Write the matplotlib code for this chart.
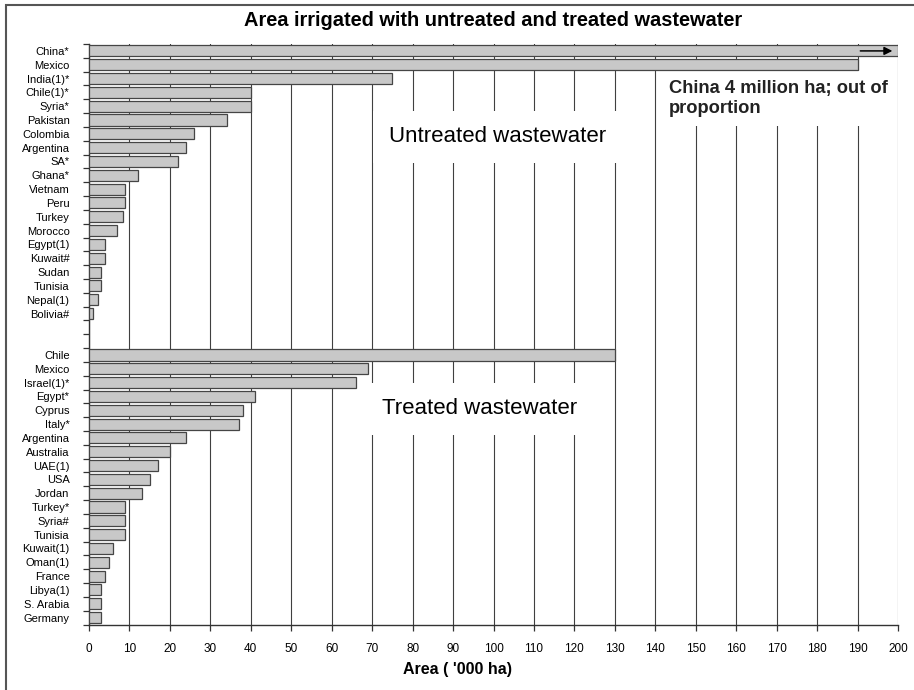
import matplotlib.pyplot as plt
import numpy as np
from matplotlib.patches import Rectangle

plt.rcParams['font.family'] = ['Liberation Sans', 'DejaVu Sans']

# untreated wastewater ('000 ha); China is really 4 million ha, cut at the axis
untreated_countries = ["China*", "Mexico", "India(1)*", "Chile(1)*", "Syria*", "Pakistan",
                       "Colombia", "Argentina", "SA*", "Ghana*", "Vietnam", "Peru", "Turkey",
                       "Morocco", "Egypt(1)", "Kuwait#", "Sudan", "Tunisia", "Nepal(1)", "Bolivia#"]
untreated_area = [4000, 190, 75, 40, 40, 34, 26, 24, 22, 12, 9, 9, 8.5, 7, 4, 4, 3, 3, 2.2, 1]

treated_countries = ["Chile", "Mexico", "Israel(1)*", "Egypt*", "Cyprus", "Italy*", "Argentina",
                     "Australia", "UAE(1)", "USA", "Jordan", "Turkey*", "Syria#", "Tunisia",
                     "Kuwait(1)", "Oman(1)", "France", "Libya(1)", "S. Arabia", "Germany"]
treated_area = [130, 69, 66, 41, 38, 37, 24, 20, 17, 15, 13, 9, 9, 9, 6, 5, 4, 3, 3, 3]

gap_rows = 2
x_max = 200
x_ticks = np.arange(0, 201, 10)

fig = plt.figure(figsize=(9.14, 6.9), dpi=100)
ax = fig.add_axes([89/914, 1 - 624.5/690, 809/914, 580.5/690])

n_u = len(untreated_countries)
y_u = np.arange(n_u)
y_t = n_u + gap_rows + np.arange(len(treated_countries))

bar_kw = dict(height=0.8, color="#c8c8c8", edgecolor="#454545", linewidth=0.9, zorder=3)
ax.barh(y_u, np.minimum(untreated_area, x_max), **bar_kw)
ax.barh(y_t, np.minimum(treated_area, x_max), **bar_kw)

n_rows = y_t[-1] + 1
ax.set_ylim(n_rows - 0.5, -0.5)
ax.set_xlim(0, x_max)

ax.set_yticks(np.concatenate([y_u, y_t]))
ax.set_yticklabels(untreated_countries + treated_countries, fontsize=8)
ax.set_yticks(np.arange(n_rows + 1) - 0.5, minor=True)
ax.tick_params(axis="y", which="major", length=0, pad=14)
ax.tick_params(axis="y", which="minor", length=4, width=0.9, direction="out", color="#333333")

ax.set_xticks(x_ticks)
ax.set_xticklabels([str(v) for v in x_ticks], fontsize=8.5)
ax.tick_params(axis="x", length=4, width=0.9, color="#333333", pad=9)

ax.grid(axis="x", color="#404040", linewidth=0.8, zorder=0)
ax.set_axisbelow(True)
for side in ["top", "right"]:
    ax.spines[side].set_visible(False)
for side in ["left", "bottom"]:
    ax.spines[side].set_color("#333333")
    ax.spines[side].set_linewidth(1.0)

ax.set_title("Area irrigated with untreated and treated wastewater",
             fontsize=14.4, fontweight="bold", pad=13)
ax.set_xlabel("Area ( '000 ha)", fontsize=11.5, fontweight="bold")
ax.xaxis.set_label_coords(0.456, -0.064)

box = dict(facecolor="white", edgecolor="none", boxstyle="square,pad=0.7")
ax.text(101, 6.2, "Untreated wastewater", fontsize=16, ha="center", va="center",
        bbox=box, zorder=2)
ax.text(96.5, 25.9, "Treated wastewater", fontsize=16, ha="center", va="center",
        bbox=box, zorder=2)
ax.text(143.3, 3.45, "China 4 million ha; out of\nproportion", fontsize=13.2,
        fontweight="bold", color="#222222", ha="left", va="center", linespacing=1.2,
        bbox=dict(facecolor="white", edgecolor="none", boxstyle="square,pad=0.5"), zorder=2)

# arrow inside the China bar
ax.annotate("", xy=(x_max - 0.7, y_u[0]), xytext=(x_max - 10, y_u[0]),
            arrowprops=dict(arrowstyle="-|>", color="black", lw=1.1, mutation_scale=12),
            zorder=4)

# outer frame
fig.patches.append(Rectangle((6/914, -0.1), 2, 1.1 - 5/690, transform=fig.transFigure,
                             fill=False, edgecolor="#555555", linewidth=1.5))

fig.savefig("out.png", dpi=100)
